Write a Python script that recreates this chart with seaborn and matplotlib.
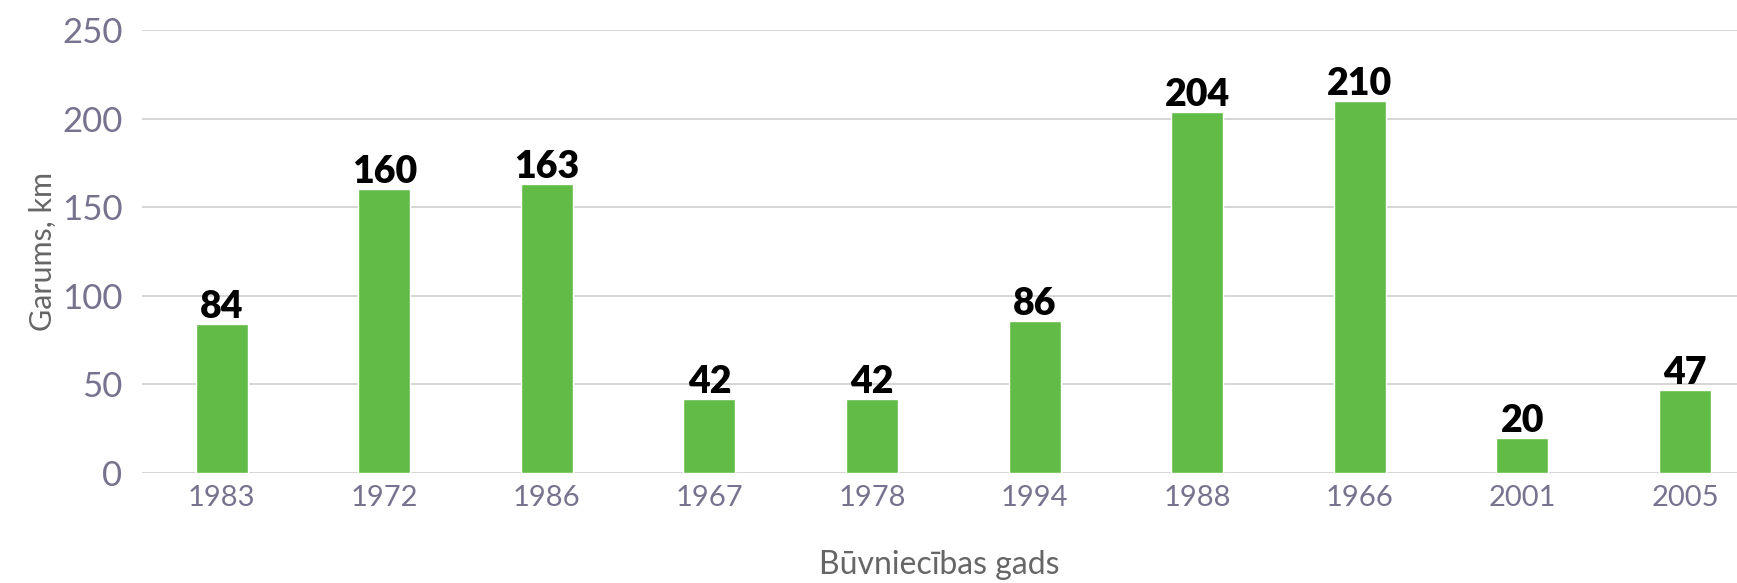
import matplotlib
matplotlib.use("Agg")
import matplotlib.pyplot as plt
import seaborn as sns
import pandas as pd

years = ["1983", "1972", "1986", "1967", "1978", "1994", "1988", "1966", "2001", "2005"]
lengths = [84, 160, 163, 42, 42, 86, 204, 210, 20, 47]
y_ticks = [0, 50, 100, 150, 200, 250]

sns.set_theme(style="white")
plt.rcParams["font.family"] = ["Lato", "DejaVu Sans"]

df = pd.DataFrame({"year": years, "length": lengths})

fig = plt.figure(figsize=(17.37, 5.83), dpi=100)
ax = fig.add_axes([142 / 1737, 1 - 473 / 583, 1 - 142 / 1737, (473 - 30) / 583])

sns.barplot(data=df, x="year", y="length", order=years, color="#62BB46",
            saturation=1, width=0.32, ax=ax, zorder=3)

ax.set_ylim(0, 250)
ax.set_xlim(-0.49, 9.32)
ax.set_yticks(y_ticks)
ax.set_yticklabels([str(t) for t in y_ticks])
ax.yaxis.grid(True, color="#d2d2d2", linewidth=1.3, zorder=0)
ax.set_axisbelow(True)
for s in ax.spines.values():
    s.set_visible(False)

ax.tick_params(axis="y", labelsize=25, labelcolor="#77738f", length=0, pad=14)
ax.tick_params(axis="x", labelsize=21, labelcolor="#77738f", length=0, pad=9)

ax.set_xlabel("Būvniecības gads", fontsize=23, color="#666666", labelpad=28)
ax.set_ylabel("Garums, km", fontsize=22, color="#666666", labelpad=4)

for c in ax.containers:
    ax.bar_label(c, labels=[str(v) for v in lengths], padding=0,
                 fontsize=27, fontweight="heavy", color="black")

fig.savefig("out.png", dpi=100)
